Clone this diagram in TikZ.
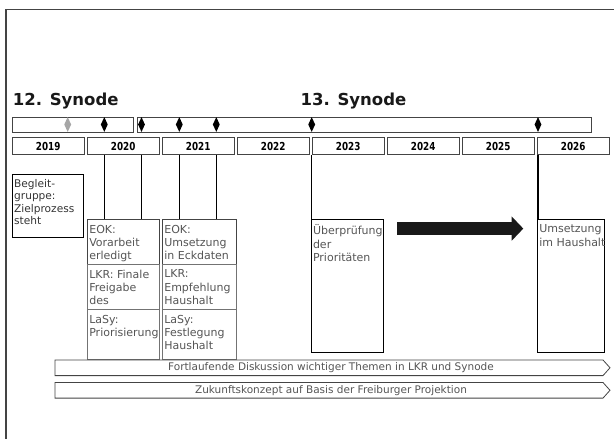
\documentclass[tikz,border=0pt]{standalone}
\usepackage{fontspec}
\setmainfont{DejaVu Sans}
\newfontfamily\narrowfont[FakeStretch=0.8]{DejaVu Sans}
\usetikzlibrary{calc,shapes.geometric,arrows.meta}
\definecolor{inkgray}{HTML}{555555}
\definecolor{rulegray}{HTML}{444444}
\newcommand{\boxfont}{\fontsize{11}{13.3}\selectfont}
\newcommand{\textdrop}{5.4pt}

\begin{document}
\begin{tikzpicture}[x=1pt,y=-1pt,
    synbar/.style={draw=rulegray, line width=.8pt, fill=white, anchor=north west,
      inner sep=0pt, minimum height=15.3pt},
    yearbox/.style={draw=rulegray, line width=.8pt, anchor=north west, inner sep=0pt,
      minimum width=71.5pt, minimum height=16.7pt,
      font=\narrowfont\bfseries\fontsize{11}{11}\selectfont},
    mstone/.style={diamond, fill=black, inner sep=0pt, minimum width=7pt, minimum height=15pt},
    task/.style={draw=#1, line width=.8pt, anchor=north west, inner sep=0pt},
    boxtext/.style={anchor=north west, inner sep=0pt, align=left, text=inkgray, font=\boxfont,
      execute at begin node={\strut}},
    mline/.style={line width=1.2pt, black},
    flow/.style={draw=rulegray, line width=.8pt},
    flowtext/.style={inner sep=0pt, text=inkgray, font=\fontsize{10.5}{12}\selectfont}]
      \useasboundingbox (0,0) rectangle (614,439);
      %% frame of the slide (only top and left edge show)
      \draw[rulegray, line width=1.5pt] (6,439) -- (6,9.5) -- (614,9.5);

      %% synods
      \node (t12) at (12.7,105.7) [anchor=base west, inner sep=0pt,
        font=\bfseries\fontsize{16.5}{17}\selectfont, text=black!90] {12. Synode};
      \node (t13) at (300.5,105.7) [anchor=base west, inner sep=0pt,
        font=\bfseries\fontsize{16.5}{17}\selectfont, text=black!90] {13. Synode};
      \node (syn12) at (12,117) [synbar, minimum width=121pt] {};
      \node (syn13) at (137,117) [synbar, minimum width=454pt] {};
      \node (m0) at (67.7,124.5) [mstone, fill=black!35] {};
      \foreach \k/\x in {1/104.3,2/141.5,3/179.3,4/216.3,5/311.7,6/538}
      { \node (m\k) at (\x,124.5) [mstone] {};}

      %% years
      \foreach \i/\yr in {0/2019,1/2020,2/2021,3/2022,4/2023,5/2024,6/2025,7/2026}
      { \node (y\yr) at (12+75*\i,137.3) [yearbox] {\yr};}

      %% tasks
      \node (begl) at (12,174) [task=black, minimum width=71.3pt, minimum height=62.7pt] {};
      \node (beglT) at (begl.north west) [boxtext, xshift=2pt, yshift=-5.4pt,
        font=\fontsize{10.6}{12.3}\selectfont, text=black!80] {Begleit-\\gruppe:\\Zielprozess\\steht};
      \foreach \r/\y/\h/\c/\ta/\tb in
        {eok/219.3/45/rulegray/{EOK:\\Vorarbeit\\erledigt}/{EOK:\\Umsetzung\\in Eckdaten},
         lkr/264.3/45/black!55/{LKR: Finale\\Freigabe\\des}/{LKR:\\Empfehlung\\Haushalt},
         lasy/309.3/50/black!55/{LaSy:\\Priorisierung}/{LaSy:\\Festlegung\\Haushalt}}
      { \node (\r A) at (87.3,\y) [task=\c, minimum width=71.4pt, minimum height=\h pt] {};
        \node (\r AT) at (\r A.north west) [boxtext, xshift=1.8pt, yshift=-\textdrop] {\ta};
        \node (\r B) at (162.3,\y) [task=\c, minimum width=73.5pt, minimum height=\h pt] {};
        \node (\r BT) at (\r B.north west) [boxtext, xshift=1.8pt, yshift=-\textdrop] {\tb};}
      \node (ueber) at (311,219.3) [task=black, minimum width=71.7pt, minimum height=132.4pt] {};
      \node (ueberT) at (ueber.north west) [boxtext, xshift=1.8pt, yshift=-\textdrop]
        {Überprüfung\\der\\Prioritäten};
      \node (umsetz) at (537.3,219.3) [task=black, minimum width=67pt, minimum height=132.4pt] {};
      \node (umsetzT) at (umsetz.north west) [boxtext, xshift=1.8pt, yshift=-\textdrop]
        {Umsetzung\\im Haushalt};

      %% milestones down to the tasks
      \foreach \m/\b in {1/eokA,2/eokA,3/eokB,4/eokB,5/ueber,6/umsetz}
      { \draw[mline] (m\m |- y2019.south) to (m\m |- \b.north);}

      %% big arrow
      \coordinate (arrS) at (397.3,228.6);
      \coordinate (arrE) at (523.3,228.6);
      \draw[line width=12.7pt, black!90,
        -{Triangle[width=23.6pt, length=11.6pt]}] (arrS) to (arrE);

      %% running topics
      \foreach \k/\y/\txt in
        {1/360/{Fortlaufende Diskussion wichtiger Themen in LKR und Synode},
         2/382.5/{Zukunftskonzept auf Basis der Freiburger Projektion}}
      { \draw[flow] (55,\y) -- (603,\y) -- (610,\y+7.8) -- (603,\y+15.6) -- (55,\y+15.6) -- cycle;
        \node (flow\k) at (331,\y+7.8) [flowtext] {\txt};}
\end{tikzpicture}
\end{document}
